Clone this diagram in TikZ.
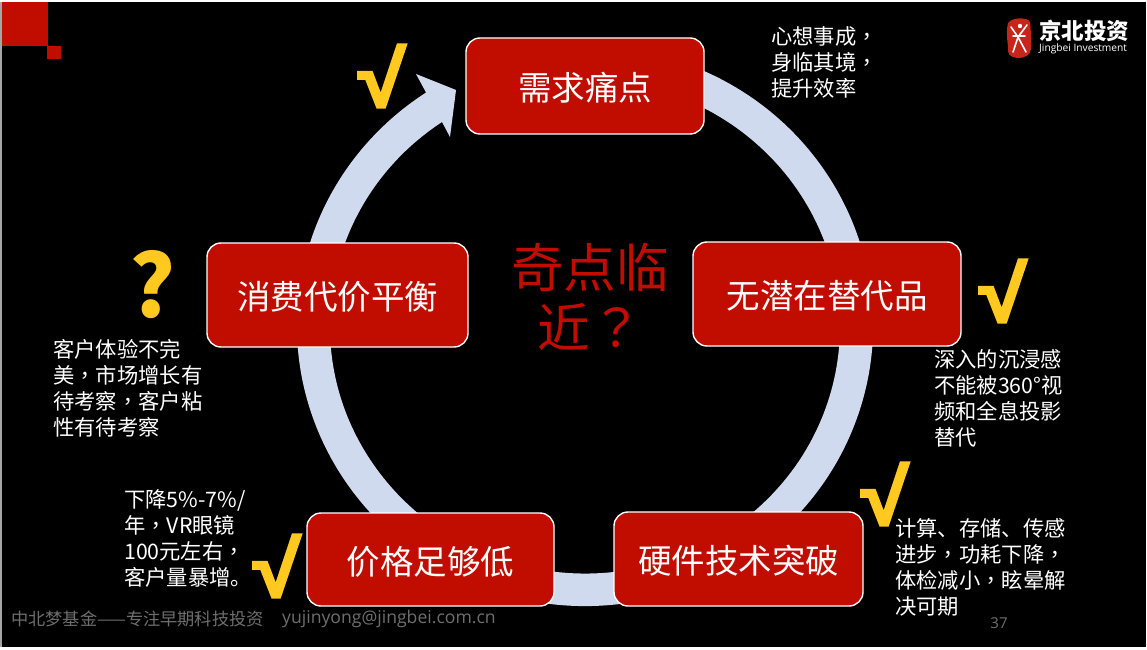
\documentclass[tikz,border=0pt]{standalone}
\usepackage{fontspec}
\setmainfont{Noto Sans CJK SC}
\newfontfamily\punctfont{Noto Sans CJK TC}
\newfontfamily\markfont[FakeBold=3.5,FakeStretch=1.1]{Liberation Sans Bold}
\newfontfamily\mailfont{Open Sans}
\newcommand{\cm}{{\punctfont ，}}
\definecolor{boxred}{HTML}{C00D00}
\definecolor{ringblue}{HTML}{D0DAEF}
\definecolor{markyellow}{HTML}{FFC91F}
\definecolor{footgray}{HTML}{6E6E6E}
\tikzset{
  stage/.style={draw=white,line width=1.4pt,fill=boxred,rounded corners=14pt,text=white,font=\fontsize{33.5}{36}\selectfont,inner sep=0pt,text depth=0pt},
  note/.style={text=white,anchor=north west,align=left,inner sep=0pt,font=\fontsize{21.3}{26.1}\selectfont},
  tick/.style={text=markyellow,inner sep=0pt,font=\markfont\fontsize{78}{78}\selectfont},
}
\begin{document}
\begin{tikzpicture}[x=1pt,y=1pt]
\useasboundingbox (0,0) rectangle (1147,649);
\fill[white] (0,0) rectangle (1147,649);
\fill[black] (2,2) rectangle (1146,647);
\fill[gray!70] (0,2) rectangle (2,647);
% corner squares
\fill[boxred] (2,603) rectangle (48,647);
\fill[boxred] (47,590) rectangle (61,603);
% ring with arrowhead (centre 585,323 in page coordinates)
\fill[ringblue] (585,323) ++(70:288 and 280)
  arc[start angle=70,end angle=-236.5,x radius=288,y radius=280]
  -- (416,575) -- (456,559) -- (450,512) -- (442,527)
  arc[start angle=-235.9,end angle=70,x radius=255,y radius=247] -- cycle;
% stages
\node[stage,minimum width=238pt,minimum height=96pt] (need) at (585,563) {\raisebox{-1pt}{需求痛点}};
\node[stage,minimum width=268pt,minimum height=104pt] (subst) at (827,355) {\raisebox{-1pt}{无潜在替代品}};
\node[stage,minimum width=249pt,minimum height=94pt] (tech) at (738.5,90) {\raisebox{-1pt}{硬件技术突破}};
\node[stage,minimum width=247pt,minimum height=93pt] (price) at (430.5,89.5) {\raisebox{-1pt}{价格足够低}};
\node[stage,minimum width=261pt,minimum height=104pt] (bal) at (337.5,354) {\raisebox{-1pt}{消费代价平衡}};
% centre
\node[text=boxred,align=center,inner sep=0pt,font=\fontsize{52.5}{60}\selectfont] (hub) at (590,352) {奇点临\\近{\punctfont ？}};
% marks
\node[tick] (m1) at (382,573) {√};
\node[tick] (m2) at (1003,358) {√};
\node[tick] (m3) at (885,155) {√};
\node[tick] (m4) at (277,83) {√};
\node[text=markyellow,inner sep=0pt,font=\bfseries\fontsize{86}{86}\selectfont] (q) at (153,364) {?};
% notes
\node[note] (n1) at (771,622.5) {心想事成\cm\\身临其境\cm\\提升效率};
\node[note] (n2) at (934,300) {深入的沉浸感\\不能被360°视\\频和全息投影\\替代};
\node[note] (n3) at (895,131) {计算、存储、传感\\进步\cm 功耗下降\cm\\体检减小\cm 眩晕解\\决可期};
\node[note] (n4) at (124,159.5) {下降5\%-7\%/\\年\cm VR眼镜\\100元左右\cm\\客户量暴增。};
\node[note] (n5) at (53,310) {客户体验不完\\美\cm 市场增长有\\待考察\cm 客户粘\\性有待考察};
% footer
\node[text=footgray,anchor=west,inner sep=0pt,font=\fontsize{17.2}{18}\selectfont] (foot) at (11,30) {中北梦基金——专注早期科技投资};
\node[text=footgray,anchor=west,inner sep=0pt,font=\mailfont\fontsize{17.6}{18}\selectfont] (mail) at (282,30) {yujinyong@jingbei.com.cn};
\node[text=footgray,inner sep=0pt,font=\mailfont\fontsize{15}{18}\selectfont] (page) at (999,26) {37};
% logo
\fill[boxred!90!white] (1008,626) .. controls (1005,614) and (1009,602) .. (1008,598) .. controls (1008,592) and (1016,591) .. (1019,591) .. controls (1024,591) and (1031,594) .. (1031,600) .. controls (1031,610) and (1031,620) .. (1030,627) .. controls (1028,632) and (1012,632) .. (1008,626) -- cycle;
\draw[white,line width=1.6pt,line cap=round] (1011,622) -- (1018,612) -- (1027,624) (1018,612) -- (1013,597) (1018,612) -- (1026,597) (1013,613) -- (1025,613);
\fill[white] (1020,623) circle (2.2);
\node[text=white,anchor=west,inner sep=0pt,font=\bfseries\fontsize{22.5}{24}\selectfont] (lg1) at (1039,618) {京北投资};
\node[text=white,anchor=west,inner sep=0pt,font=\mailfont\fontsize{10.2}{12}\selectfont] (lg2) at (1039,600) {Jingbei Investment};
\end{tikzpicture}
\end{document}
